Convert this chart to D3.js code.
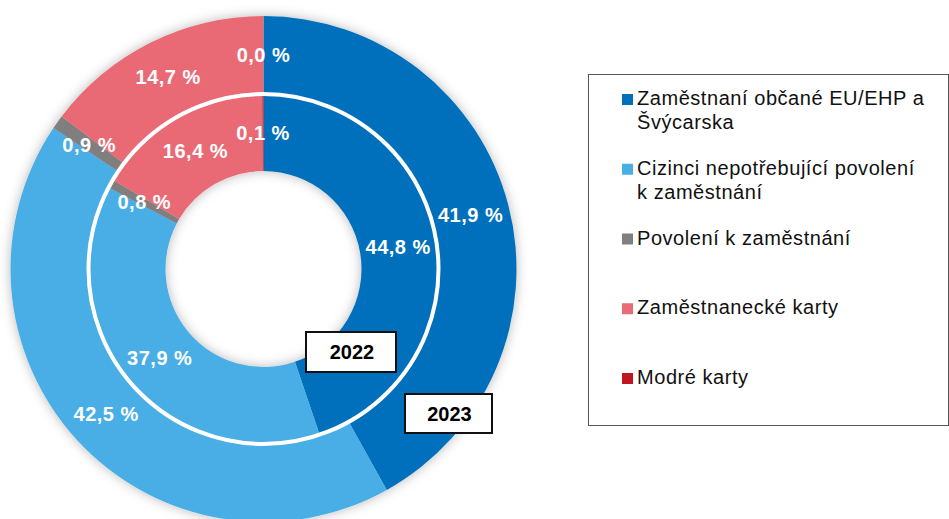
<!DOCTYPE html>
<html>
<head>
<meta charset="utf-8">
<script src="https://cdn.jsdelivr.net/npm/d3@7"></script>
<style>
  body { margin: 0; background: #fff; }
  svg { display: block; font-family: "Liberation Sans", Arial, sans-serif; }
</style>
</head>
<body>
<svg></svg>
<script>
const categories = [
  'Zaměstnaní občané EU/EHP a Švýcarska',
  'Cizinci nepotřebující povolení k zaměstnání',
  'Povolení k zaměstnání',
  'Zaměstnanecké karty',
  'Modré karty'
];
const legendLines = [
  ['Zaměstnaní občané EU/EHP a', 'Švýcarska'],
  ['Cizinci nepotřebující povolení', 'k zaměstnání'],
  ['Povolení k zaměstnání'],
  ['Zaměstnanecké karty'],
  ['Modré karty']
];
const values2023 = [41.9, 42.5, 0.9, 14.7, 0.0];
const values2022 = [44.8, 37.9, 0.8, 16.4, 0.1];
const years = ['2022', '2023'];
const colors = ['#0070bc', '#4aaee6', '#7f7f7f', '#e96b74', '#c0171f'];

const width = 949, height = 519;
const cx = 263.5, cy = 269;
const rHole = 98, rMid = 175, rOuter = 253;

const svg = d3.select('svg')
  .attr('width', width)
  .attr('height', height);

const defs = svg.append('defs');
const shadow = defs.append('filter')
  .attr('id', 'shadow')
  .attr('x', '-20%').attr('y', '-20%')
  .attr('width', '140%').attr('height', '140%');
shadow.append('feDropShadow')
  .attr('dx', 0).attr('dy', 0)
  .attr('stdDeviation', 6)
  .attr('flood-color', '#000')
  .attr('flood-opacity', 0.28);

const color = d3.scaleOrdinal().domain(categories).range(colors);
const fmt = v => d3.format('.1f')(v).replace('.', ',') + ' %';

const pie = d3.pie().sort(null).value(d => d.value);
const toRows = vals => categories.map((c, i) => ({cat: c, value: vals[i]}));

const arcInner = d3.arc().innerRadius(rHole).outerRadius(rMid);
const arcOuter = d3.arc().innerRadius(rMid).outerRadius(rOuter);

const g = svg.append('g')
  .attr('transform', `translate(${cx}, ${cy})`);

const rings = g.append('g').attr('filter', 'url(#shadow)');

const outerData = pie(toRows(values2023));
const innerData = pie(toRows(values2022));

rings.selectAll('path.outer').data(outerData)
  .enter().append('path')
    .attr('class', 'outer')
    .attr('d', arcOuter)
    .attr('fill', d => color(d.data.cat));

rings.selectAll('path.inner').data(innerData)
  .enter().append('path')
    .attr('class', 'inner')
    .attr('d', arcInner)
    .attr('fill', d => color(d.data.cat));

// white separating ring
g.append('circle')
  .attr('r', rMid)
  .attr('fill', 'none')
  .attr('stroke', '#fff')
  .attr('stroke-width', 4);

const addLabels = (data, arc) => {
  g.append('g').selectAll('text').data(data)
    .enter().append('text')
      .attr('transform', d => `translate(${arc.centroid(d)})`)
      .attr('text-anchor', 'middle')
      .attr('dy', '0.35em')
      .attr('fill', '#fff')
      .attr('font-weight', 'bold')
      .attr('font-size', 20)
      .attr('letter-spacing', 0.5)
      .text(d => fmt(d.data.value));
};
addLabels(outerData, arcOuter);
addLabels(innerData, arcInner);

// year boxes
const yearBoxes = [
  {x: 306, y: 332, w: 90, h: 40},
  {x: 405, y: 394, w: 87, h: 39}
];
years.forEach((yr, i) => {
  const b = yearBoxes[i];
  const yb = svg.append('g');
  yb.append('rect')
    .attr('x', b.x).attr('y', b.y)
    .attr('width', b.w).attr('height', b.h)
    .attr('fill', '#fff')
    .attr('stroke', '#111')
    .attr('stroke-width', 2);
  yb.append('text')
    .attr('x', b.x + b.w / 2 + 1)
    .attr('y', b.y + b.h / 2)
    .attr('dy', '0.35em')
    .attr('text-anchor', 'middle')
    .attr('font-weight', 'bold')
    .attr('font-size', 20)
    .attr('fill', '#000')
    .text(yr);
});

// legend
const legend = svg.append('g');
legend.append('rect')
  .attr('x', 588.5).attr('y', 74.5)
  .attr('width', 360).attr('height', 351)
  .attr('fill', '#fff')
  .attr('stroke', '#555')
  .attr('stroke-width', 1);

const legendY = d3.scaleLinear().domain([0, categories.length - 1]).range([105, 384]);

const items = legend.selectAll('g.item').data(categories)
  .enter().append('g')
    .attr('class', 'item')
    .attr('transform', (d, i) => `translate(0, ${legendY(i)})`);

items.append('rect')
  .attr('x', 622).attr('y', -11)
  .attr('width', 11).attr('height', 11)
  .attr('fill', d => color(d));

items.append('text')
  .attr('x', 637)
  .attr('font-size', 20)
  .attr('letter-spacing', 0.55)
  .attr('fill', '#111')
  .each(function(d, i) {
    d3.select(this).selectAll('tspan').data(legendLines[i])
      .enter().append('tspan')
        .attr('x', 637)
        .attr('dy', (t, j) => j === 0 ? 0 : 24)
        .text(t => t);
  });
</script>
</body>
</html>
